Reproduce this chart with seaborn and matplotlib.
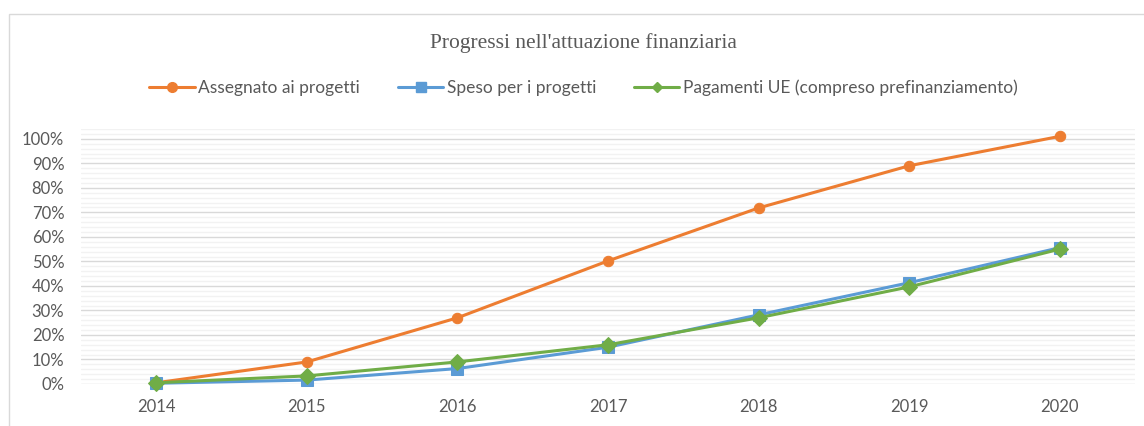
import numpy as np
import pandas as pd
import matplotlib
matplotlib.use("Agg")
import matplotlib.pyplot as plt
import seaborn as sns
from matplotlib.lines import Line2D
from matplotlib.patches import Rectangle
from matplotlib.ticker import MultipleLocator, PercentFormatter

# data (share of allocation, %)
years = [2014, 2015, 2016, 2017, 2018, 2019, 2020]
assegnato = [0.5, 9.0, 27.0, 50.2, 71.8, 89.0, 101.0]
speso = [0.3, 1.6, 6.3, 15.0, 28.2, 41.3, 55.6]
pagamenti = [0.5, 3.3, 9.0, 16.0, 27.0, 39.6, 55.0]

series_names = ["Assegnato ai progetti", "Speso per i progetti",
                "Pagamenti UE (compreso prefinanziamento)"]
colors = ["#ED7D31", "#5B9BD5", "#70AD47"]
markers = ["o", "s", "D"]
msizes = [7.5, 8, 8.5]

df = pd.DataFrame({
    "anno": years * 3,
    "valore": assegnato + speso + pagamenti,
    "serie": np.repeat(series_names, len(years)),
})

sns.set_style("white")
plt.rcParams["font.family"] = ["Lato", "DejaVu Sans"]

fig = plt.figure(figsize=(11.44, 4.26), dpi=100)
ax = fig.add_axes([81 / 1144, 42 / 426, (1135 - 81) / 1144, (384 - 129) / 426])

for name, col, mk, ms in zip(series_names, colors, markers, msizes):
    sub = df[df["serie"] == name]
    sns.lineplot(data=sub, x="anno", y="valore", ax=ax, color=col,
                 linewidth=2.2, marker=mk, markersize=ms,
                 markeredgecolor=col, markerfacecolor=col, legend=False,
                 clip_on=False, zorder=3)

ax.set_xlim(2013.5, 2020.5)
ax.set_ylim(0, 104)
ax.set_xticks(years)
ax.yaxis.set_minor_locator(MultipleLocator(2))
ax.yaxis.set_major_formatter(PercentFormatter(decimals=0))
ax.set_yticks([v for v in range(0, 101, 10)])
ax.grid(which="major", axis="y", color="#D9D9D9", linewidth=1.0)
ax.grid(which="minor", axis="y", color="#F2F2F2", linewidth=1.0)
ax.set_axisbelow(True)
for s in ax.spines.values():
    s.set_visible(False)
ax.set_xlabel("")
ax.set_ylabel("")
ax.tick_params(axis="both", which="both", length=0, labelsize=12,
               labelcolor="#595959")
ax.tick_params(axis="x", pad=11)
ax.tick_params(axis="y", pad=12)

# chart border
fig.patches.append(Rectangle((9 / 1144, -0.05), 1.2, (426 - 14) / 426 + 0.05,
                             transform=fig.transFigure, fill=False,
                             edgecolor="#D9D9D9", linewidth=1.0))

fig.text(0.51, 1 - 43 / 426, "Progressi nell'attuazione finanziaria",
         ha="center", va="center", fontsize=15.5, color="#595959",
         family=["Liberation Serif", "DejaVu Serif"])

handles = [Line2D([0], [0], color=c, linewidth=2.2, marker=m,
                  markersize=ms, markerfacecolor=c, markeredgecolor=c)
           for c, m, ms in zip(colors, markers, [7, 6.5, 5])]
fig.legend(handles, series_names, loc="center", ncol=3,
           bbox_to_anchor=(0.51, 1 - 88 / 426), frameon=False,
           fontsize=12.5, labelcolor="#595959", handlelength=2.6,
           handletextpad=0.2, columnspacing=2.2)

fig.savefig("out.png", dpi=100, facecolor="white")
